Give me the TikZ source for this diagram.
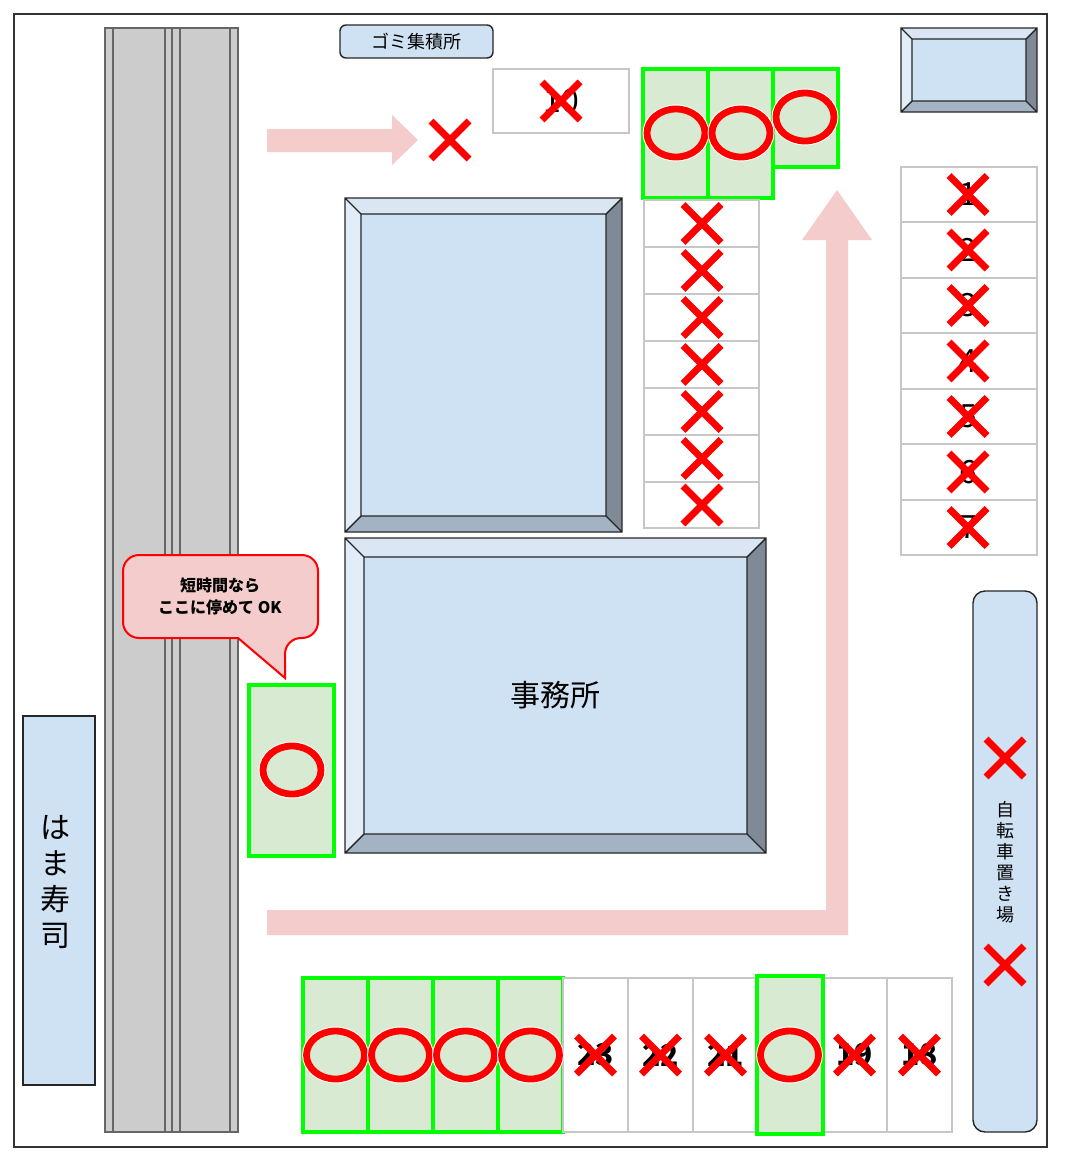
\documentclass[tikz,border=0pt]{standalone}
\usepackage{fontspec}
\setmainfont{Noto Sans CJK JP}
\setsansfont{Noto Sans CJK JP}
\begin{document}
\begin{tikzpicture}[x=0.5pt,y=-0.5pt,
  xm/.style={draw=red,line width=3.4pt},
  ring/.style={draw=red,line width=3.4pt,fill=spotg},
  spot/.style={draw=spotgreen,line width=2pt,fill=spotg},
  cell/.style={draw=black!22,line width=0.6pt,fill=white},
  pinkarrow/.style={fill=pinkc,draw=none},
  num/.style={font=\fontsize{16}{16}\selectfont},
  bnum/.style={font=\bfseries\fontsize{15}{15}\selectfont}]
\definecolor{spotg}{HTML}{D9EAD3}
\definecolor{spotgreen}{HTML}{00FF00}
\definecolor{pinkc}{HTML}{F4CCCC}
\definecolor{bluec}{HTML}{CFE2F3}
\definecolor{roadc}{HTML}{CCCCCC}
\definecolor{bvt}{HTML}{DAE6F3}
\definecolor{bvl}{HTML}{E3EDF8}
\definecolor{bvr}{HTML}{7F8A96}
\definecolor{bvb}{HTML}{A3B3C4}
\newcommand\xmk[2]{\draw[xm] ({#1-19},{#2-19})--({#1+19},{#2+19}) ({#1-19},{#2+19})--({#1+19},{#2-19});}
\newcommand\ringat[3]{\draw[white,line width=4.4pt] (#1,#2) ellipse (29 and 24);\draw[ring] (#1,#2) ellipse (29 and 24);}
\newcommand\bevelbox[5]{% x1 y1 x2 y2 inset
  \fill[bvt] (#1,#2)--(#3,#2)--({#3-#5},{#2+#5})--({#1+#5},{#2+#5})--cycle;
  \fill[bvl] (#1,#2)--({#1+#5},{#2+#5})--({#1+#5},{#4-#5})--(#1,#4)--cycle;
  \fill[bvr] (#3,#2)--(#3,#4)--({#3-#5},{#4-#5})--({#3-#5},{#2+#5})--cycle;
  \fill[bvb] (#1,#4)--(#3,#4)--({#3-#5},{#4-#5})--({#1+#5},{#4-#5})--cycle;
  \fill[bluec] ({#1+#5},{#2+#5}) rectangle ({#3-#5},{#4-#5});
  \draw[black!85,line width=0.7pt] (#1,#2) rectangle (#3,#4) ({#1+#5},{#2+#5}) rectangle ({#3-#5},{#4-#5})
    (#1,#2)--({#1+#5},{#2+#5}) (#3,#2)--({#3-#5},{#2+#5}) (#1,#4)--({#1+#5},{#4-#5}) (#3,#4)--({#3-#5},{#4-#5});}
\fill[white] (0,0) rectangle (1066,1162);
\useasboundingbox (0,0) rectangle (1066,1162);
\draw[black!80,line width=0.7pt] (14,14) rectangle (1047,1147);
% road
\fill[roadc] (105,28) rectangle (238,1132);
\draw[black!60,line width=0.6pt] (105,28) rectangle (238,1132);
\foreach \x in {113,165,172,180,230} \draw[black!60,line width=0.6pt] (\x,28)--(\x,1132);
% hama sushi
\draw[black!85,fill=bluec,line width=0.7pt] (23,716) rectangle (95,1085);
\node[font=\fontsize{15}{15}\selectfont,align=center] (hama) at (55,882) {は\\[3pt]ま\\[3pt]寿\\[3pt]司};
% gomi
\node[draw=black!85,fill=bluec,rounded corners=3pt,minimum width=76.5pt,minimum height=16.5pt,font=\fontsize{9}{9}\selectfont,line width=0.7pt] (gomi) at (416.5,41.5) {ゴミ集積所};
% pink arrows
\fill[pinkc] (267,129)--(392,129)--(392,115)--(418,140)--(392,165)--(392,152)--(267,152)--cycle;
\fill[pinkc] (267,910)--(826,910)--(826,240)--(802,240)--(837,190)--(872,240)--(848,240)--(848,935)--(267,935)--cycle;
\xmk{450}{140}
% box 10
\draw[cell] (493,69) rectangle (629,133);
\node[num] (n10) at (561,101) {10};
\xmk{561}{101}
% 11-13
\draw[spot] (643,69) rectangle (708,198);
\draw[spot] (708,69) rectangle (773,198);
\draw[spot] (773,69) rectangle (838,167);
\ringat{676}{133}\node[num] (n11) at (676,133) {11};
\ringat{741}{133}\node[num] (n12) at (741,133) {12};
\ringat{805}{117}\node[num] (n13) at (805,117) {13};
% column of cells
\foreach \a/\b in {200/247,247/294,294/341,341/388,388/435,435/482,482/528}{
  \draw[cell] (644,\a) rectangle (759,\b);
  \xmk{702}{(\a+\b)/2}}
% buildings
\bevelbox{345}{198}{622}{532}{16}
\bevelbox{345}{538}{766}{853}{19}
\node[font=\fontsize{15}{15}\selectfont] (office) at (555,695) {事務所};
\bevelbox{901}{28}{1037}{112}{11}
% right column
\foreach \a/\b/\n in {167/222/1,222/278/2,278/333/3,333/389/4,389/444/5,444/500/6,500/555/7}{
  \draw[cell] (901,\a) rectangle (1037,\b);
  \node[num] at (968,{(\a+\b)/2}) {\n};
  \xmk{968}{(\a+\b)/2}}
% bicycle
\draw[black!85,fill=bluec,rounded corners=6pt,line width=0.7pt] (973,591) rectangle (1037,1132);
\xmk{1005}{758}
\xmk{1005}{965}
\node[font=\fontsize{9}{9}\selectfont,align=center,inner sep=0pt] (bike) at (1005,862) {自\\[1.5pt]転\\[1.5pt]車\\[1.5pt]置\\[1.5pt]き\\[1.5pt]場};
% callout
\draw[red,line width=1pt,fill=pinkc,rounded corners=8pt] (123,555)--(318,555)--(318,638)--(285,638)[sharp corners]--(285,678)--(238,638)[rounded corners=8pt]--(123,638)--cycle;
\node[font=\bfseries\fontsize{8}{11}\selectfont,align=center] (callout) at (220,596) {短時間なら\\ここに停めて OK};
% short stay spot
\draw[spot] (249,685) rectangle (334,856);
\ringat{292}{770}
\fill[bluec!80!white,draw=white,line width=0.8pt] (346,773)--(390,773)--(390,760)--(417,787)--(390,814)--(390,800)--(346,800)--cycle;
% bottom row
\foreach \x/\n/\ok [count=\i] in {303/27/1,368/26/1,433/25/1,498/24/1,563/23/0,628/22/0,693/21/0,757/20/1,822/19/0,887/18/0}{
  \pgfmathsetmacro\xe{\x+65}
  \pgfmathsetmacro\xc{\x+32.5}
  \ifnum\ok=1
    \draw[spot] (\x,978) rectangle (\xe,1132);
  \else
    \draw[cell] (\x,978) rectangle (\xe,1132);
  \fi
}
\draw[spot] (757,976) rectangle (823,1134);
\foreach \x/\n/\ok in {303/27/1,368/26/1,433/25/1,498/24/1,563/23/0,628/22/0,693/21/0,757/20/1,822/19/0,887/18/0}{
  \pgfmathsetmacro\xc{\x+32.5}
  \ifnum\ok=1
    \ringat{\xc}{1055}
    \node[bnum] at (\xc,1055) {\n};
  \else
    \node[bnum] at (\xc,1055) {\n};
    \xmk{\xc}{1055}
  \fi
}
\end{tikzpicture}
\end{document}
